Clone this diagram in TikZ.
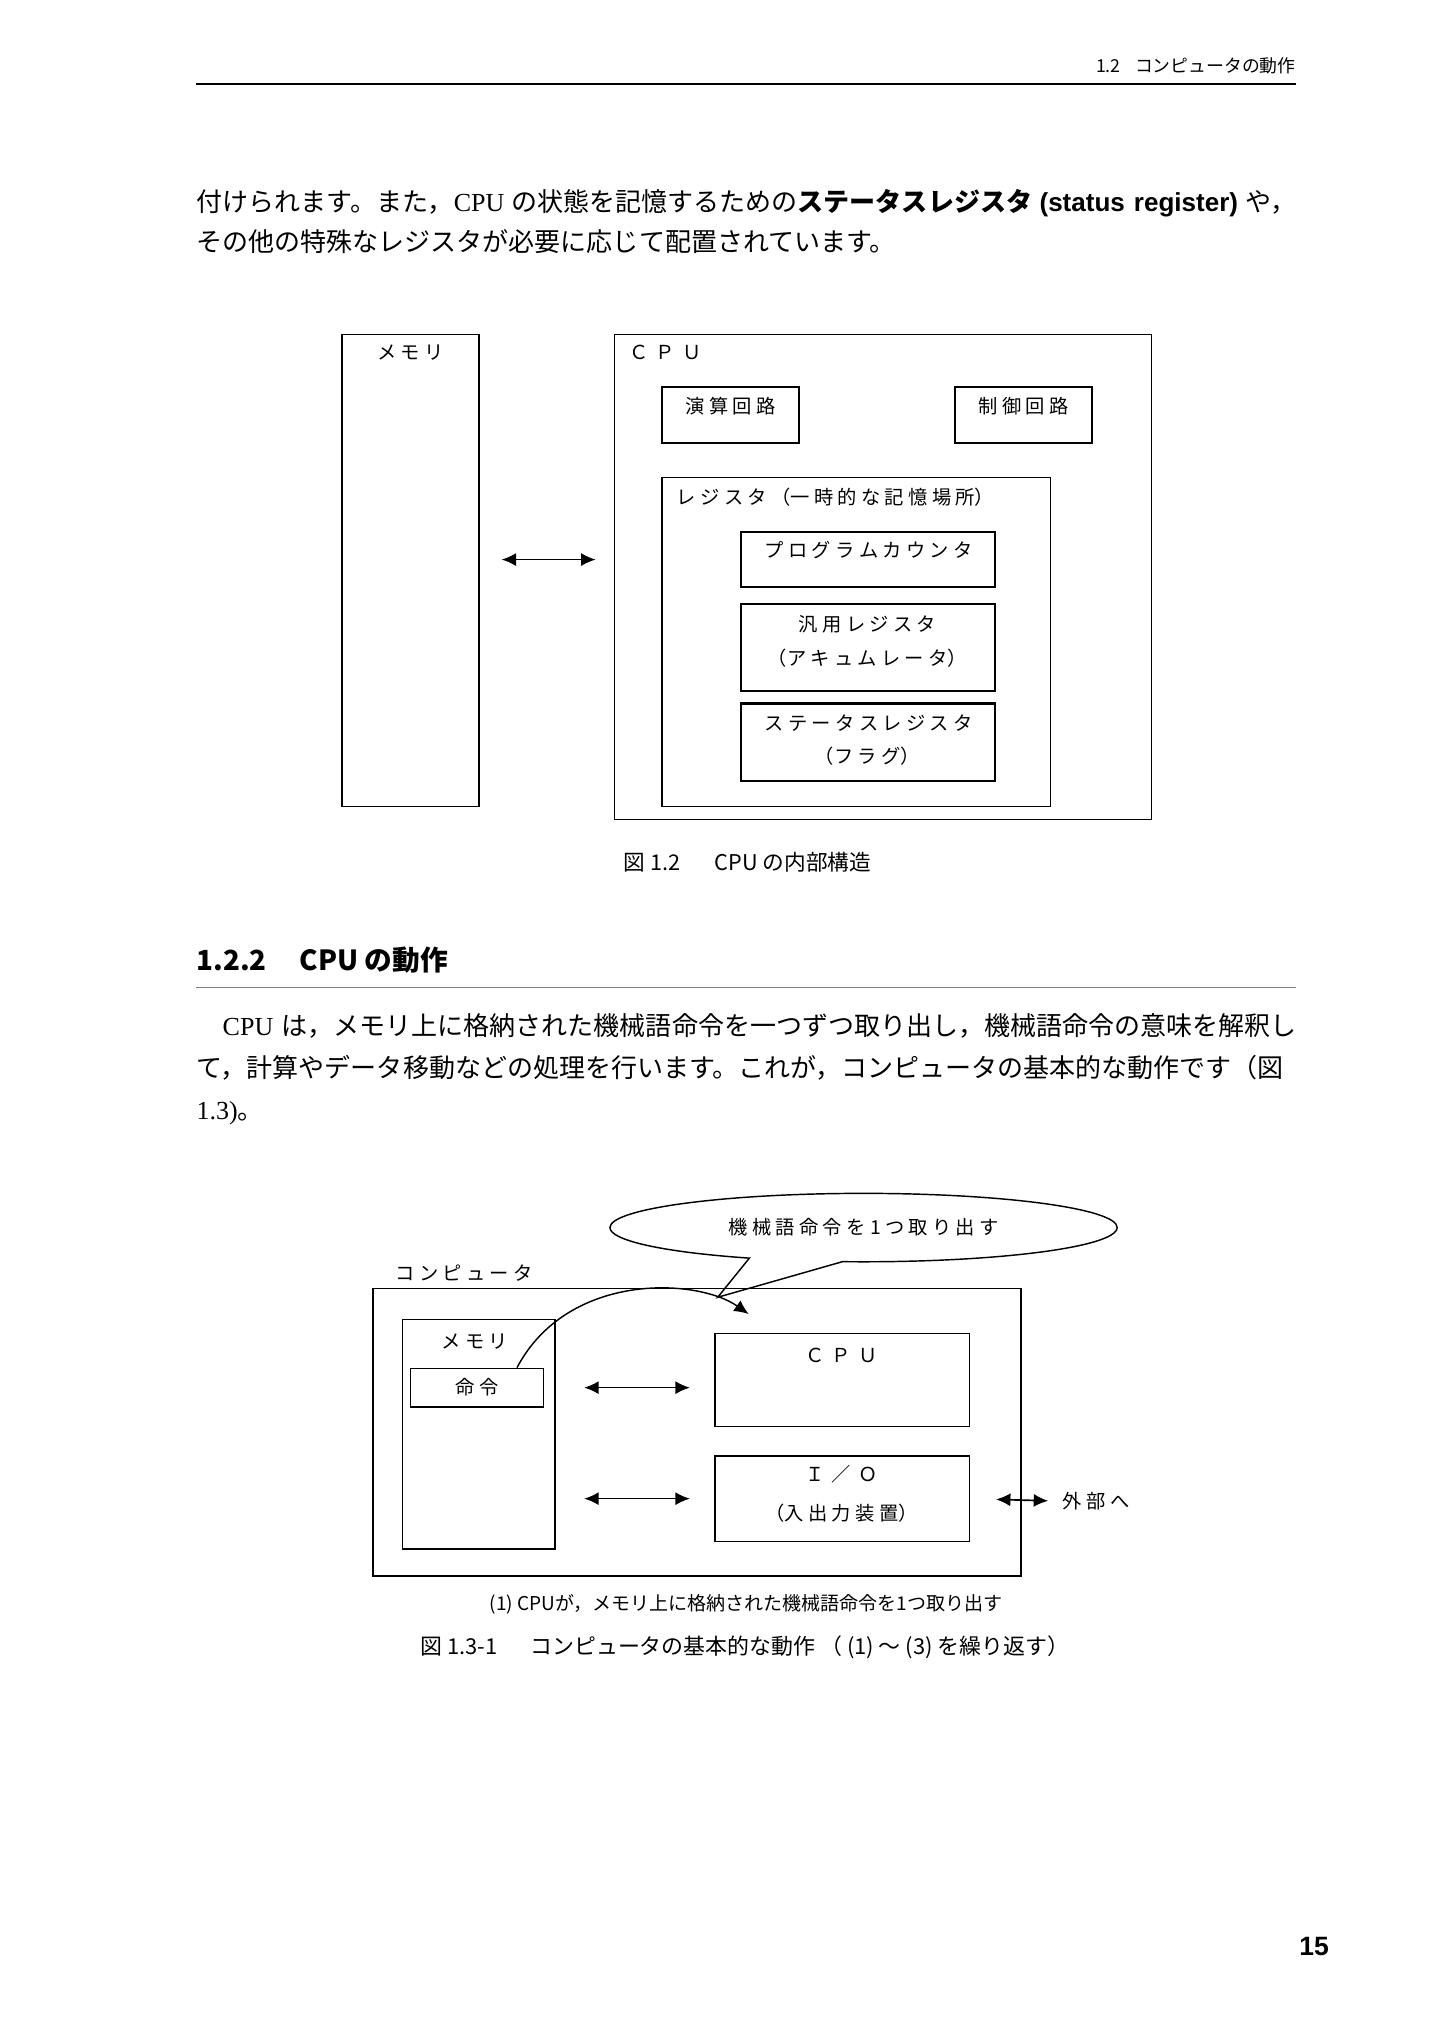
\documentclass[tikz,border=0pt]{standalone}
\usepackage{fontspec}
\setmainfont{Noto Sans CJK JP}
\newfontfamily\serifjp{Liberation Serif}
\newfontfamily\helv{Liberation Sans}
\usetikzlibrary{fit,shapes.callouts,arrows.meta}
\XeTeXlinebreaklocale "ja"
\XeTeXlinebreakskip=0pt plus 1pt minus 0.4pt
\newdimen\un \un=0.5358pt
\tikzset{
  box/.style={draw, inner sep=0pt, line width=0.6pt},
  boxb/.style={box, line width=0.9pt},
  lbl/.style={inner sep=0pt, font=\fontsize{8}{10}\selectfont},
  body/.style={anchor=base west, inner sep=0pt, font=\fontsize{10.8}{14}\selectfont},
  figcap/.style={inner sep=0pt, font=\fontsize{9}{11}\selectfont},
  bus/.style={{Latex[length=6pt,width=5.4pt]}-{Latex[length=6pt,width=5.4pt]}, line width=0.7pt},
}
\begin{document}
\begin{tikzpicture}[x=0.5358pt, y=-0.5358pt]
    \fill[white] (0,0) rectangle (1110,1568);
    \useasboundingbox (0,0) rectangle (1110,1568);
    % header
    \node[anchor=base east, inner sep=0pt, font=\fontsize{7.4}{9}\selectfont] (hd) at (1004,56) {1.2\hspace{0.8em}コンピュータの動作};
    \draw[line width=1pt] (152,65) -- (1004,65);
    \node[body] (p1a) at (152,164) {\hbox to 852\un{付けられます。また，{\serifjp CPU} の状態を記憶するための\textbf{ステータスレジスタ {\helv (status register)}} や，}};
    \node[body] (p1b) at (152,195) {その他の特殊なレジスタが必要に応じて配置されています。};
    % fig 1.2
    \node[box, fit={(265,259) (371,625)}] (mem) {};
    \node[box, fit={(476,259) (892,635)}] (cpu) {};
    \node[boxb, fit={(513,300) (619,343)}] (alu) {};
    \node[boxb, fit={(740,300) (846,343)}] (ctl) {};
    \node[box, fit={(513,370) (814,625)}] (reg) {};
    \node[boxb, fit={(574,412) (771,455)}] (pc) {};
    \node[boxb, fit={(574,468) (771,535)}] (acc) {};
    \node[boxb, fit={(574,545) (771,605)}] (flag) {};
    \node[lbl] (meml) at (318,273) {メ モ リ};
    \node[lbl, anchor=west] (cpul) at (487,273) {Ｃ\hspace{3pt}Ｐ\hspace{3pt}Ｕ};
    \node[lbl] (alul) at (566,315) {演 算 回 路};
    \node[lbl] (ctll) at (793,315) {制 御 回 路};
    \node[lbl, anchor=west] (regl) at (524,385) {レ ジ ス タ （一 時 的 な 記 憶 場 所）};
    \node[lbl] (pcl) at (673,426) {プ ロ グ ラ ム カ ウ ン タ};
    \node[lbl] (accl) at (672,484) {汎 用 レ ジ ス タ};
    \node[lbl] (accm) at (672,510) {（ア キ ュ ム レ ー タ）};
    \node[lbl] (flagl) at (673,560) {ス テ ー タ ス レ ジ ス タ};
    \node[lbl] (flagm) at (672,586) {（フ ラ グ）};
    \draw[bus, shorten <=17\un, shorten >=14\un] (mem.east |- pc) -- (cpu.west |- pc);
    \node[figcap] (fig12) at (579,668) {図 1.2\hspace{1.6em}CPU の内部構造};
    % section
    \node[anchor=base west, inner sep=0pt, font=\fontsize{11.5}{14}\selectfont\bfseries] (h122) at (152,752) {1.2.2\hspace{1.2em}CPU の動作};
    \draw[gray, line width=0.6pt] (152,765) -- (1004,765);
    \node[body] (p2a) at (152,802) {\hbox to 852\un{\hspace{1em}{\serifjp CPU} は，メモリ上に格納された機械語命令を一つずつ取り出し，機械語命令の意味を解釈し}};
    \node[body] (p2b) at (152,835) {\hbox to 852\un{て，計算やデータ移動などの処理を行います。これが，コンピュータの基本的な動作です（図}};
    \node[body] (p2c) at (152,867) {{\serifjp 1.3)}。};
    % fig 1.3
    \node[draw, line width=0.6pt, ellipse callout, minimum width=393\un, minimum height=53\un, inner sep=0pt,
          callout absolute pointer={(556,1005)}, callout pointer arc=22, lbl] (bub) at (669,951) {機 械 語 命 令 を 1 つ 取 り 出 す};
    \node[lbl, anchor=west] (compl) at (306,986) {コ ン ピ ュ ー タ};
    \node[box, fit={(289,998) (791,1221)}] (comp) {};
    \node[box, fit={(312,1022) (430,1200)}] (mem2) {};
    \node[box, fit={(318,1060) (421,1090)}] (inst) {};
    \node[box, fit={(554,1033) (751,1105)}] (cpu2) {};
    \node[box, fit={(554,1128) (751,1194)}] (io) {};
    \node[lbl] (mem2l) at (368,1039) {メ モ リ};
    \node[lbl] (instl) at (inst) {命 令};
    \node[lbl] (cpu2l) at (652,1050) {Ｃ\hspace{3pt}Ｐ\hspace{3pt}Ｕ};
    \node[lbl] (iol) at (652,1142) {Ｉ\hspace{3pt}／\hspace{3pt}Ｏ};
    \node[lbl] (iom) at (652,1172) {（入 出 力 装 置）};
    \node[lbl, anchor=west] (ext) at (823,1163) {外 部 へ};
    \draw[bus, shorten <=22\un, shorten >=19\un] (mem2.east |- inst) -- (cpu2.west |- inst);
    \draw[bus, shorten <=22\un, shorten >=19\un] (mem2.east |- io) -- (io.west);
    \draw[bus, shorten <=20\un, shorten >=11\un] (io.east) -- (ext.west);
    \draw[-{Latex[length=6pt,width=5.4pt]}, line width=0.6pt] ([xshift=-21\un]inst.north east) .. controls (440,985) and (540,990) .. (580,1018);
    \node[inner sep=0pt, font=\fontsize{7.9}{9}\selectfont] (cap13a) at (578,1243) {(1) CPUが，メモリ上に格納された機械語命令を1つ取り出す};
    \node[figcap, font=\fontsize{9.1}{11}\selectfont] (fig13) at (577,1276) {図 1.3-1\hspace{1.5em}コンピュータの基本的な動作 （ (1) ～ (3) を繰り返す）};
    % page number
    \node[inner sep=0pt, font=\fontsize{11}{13}\selectfont\helv\bfseries] (pg) at (1018,1508) {15};
\end{tikzpicture}
\end{document}
